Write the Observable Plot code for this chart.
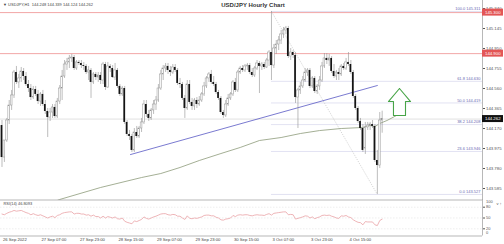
<!DOCTYPE html>
<html><head><meta charset="utf-8">
<script src="https://cdn.jsdelivr.net/npm/d3@7"></script>
<script src="https://cdn.jsdelivr.net/npm/@observablehq/plot@0.6"></script>
<style>
html,body{margin:0;padding:0;background:#fff;}
#wrap{position:relative;width:504px;height:244px;overflow:hidden;font-family:"Liberation Sans",Arial,sans-serif;}
#wrap svg{position:absolute;left:0;overflow:visible;}
#hdr{position:absolute;left:3px;top:2px;font-size:4px;color:#444;white-space:nowrap;z-index:3;}
#title{position:absolute;left:253px;top:2px;transform:translateX(-50%);font-size:6px;font-weight:bold;color:#333;white-space:nowrap;z-index:3;}
</style></head><body><div id="wrap"><div id="hdr">▼ USDJPY,H1&nbsp; 144.248 144.339 144.124 144.262</div><div id="title">USD/JPY Hourly Chart</div></div>
<script>
// ---- data ----
const open = [
144.199,143.887,144.053,144.248,144.394,144.492,144.716,144.619,144.658,144.726,
144.677,144.599,144.560,144.472,144.550,144.502,144.433,144.502,144.404,144.336,
144.277,144.326,144.375,144.287,144.433,144.560,144.677,144.794,144.814,144.853,
144.862,144.755,144.814,144.804,144.784,144.775,144.716,144.736,144.619,144.697,
144.667,144.687,144.638,144.794,144.570,144.775,144.755,144.667,144.736,144.580,
144.502,144.560,144.229,144.112,144.092,143.956,144.131,144.092,144.170,144.229,
144.404,144.307,144.268,144.346,144.404,144.443,144.560,144.697,144.755,144.775,
144.736,144.716,144.765,144.736,144.609,144.599,144.463,144.365,144.599,144.424,
144.385,144.443,144.404,144.443,144.502,144.580,144.658,144.697,144.619,144.599,
144.521,144.463,144.326,144.297,144.404,144.463,144.502,144.619,144.541,144.716,
144.755,144.736,144.775,144.784,144.716,144.687,144.755,144.804,144.775,144.794,
144.765,144.833,144.911,144.784,144.950,144.989,145.028,145.087,145.126,145.145,
144.872,144.911,144.882,144.472,144.541,144.580,144.638,144.716,144.736,144.580,
144.658,144.531,144.580,144.638,144.775,144.853,144.833,144.853,144.726,144.677,
144.716,144.697,144.775,144.755,144.814,144.794,144.716,144.482,144.365,144.238,
144.170,143.975,144.180,144.199,144.209,144.190,143.858,143.809,144.248];
const high = [
144.248,143.956,144.268,144.443,144.541,144.736,144.775,144.697,144.765,144.755,
144.716,144.638,144.599,144.580,144.580,144.541,144.521,144.541,144.443,144.365,
144.365,144.404,144.404,144.463,144.589,144.736,144.833,144.853,144.882,144.892,
144.882,144.833,144.833,144.833,144.814,144.794,144.775,144.755,144.716,144.716,
144.716,144.716,144.814,144.814,144.814,144.794,144.784,144.804,144.755,144.599,
144.580,144.580,144.248,144.151,144.112,144.170,144.190,144.190,144.268,144.443,
144.443,144.346,144.365,144.443,144.482,144.599,144.736,144.784,144.804,144.804,
144.775,144.794,144.794,144.755,144.658,144.619,144.492,144.638,144.638,144.463,
144.463,144.472,144.482,144.521,144.619,144.677,144.716,144.736,144.677,144.619,
144.541,144.482,144.346,144.443,144.502,144.521,144.638,144.658,144.736,144.775,
144.784,144.794,144.804,144.804,144.755,144.775,144.833,144.823,144.814,144.814,
144.853,144.930,145.311,144.989,145.028,145.067,145.126,145.155,145.165,145.165,
144.950,144.930,144.911,144.560,144.619,144.677,144.755,144.755,144.755,144.677,
144.677,144.599,144.677,144.814,144.901,144.901,144.892,144.872,144.794,144.736,
144.755,144.794,144.804,144.853,144.911,144.833,144.736,144.502,144.385,144.268,
144.209,144.229,144.229,144.229,144.248,144.209,143.956,144.326,144.339];
const low = [
143.790,143.839,144.034,144.209,144.346,144.463,144.599,144.560,144.619,144.638,
144.580,144.521,144.443,144.453,144.482,144.404,144.385,144.385,144.307,144.082,
144.238,144.268,144.268,144.268,144.404,144.443,144.658,144.736,144.755,144.814,
144.736,144.736,144.784,144.755,144.736,144.697,144.638,144.463,144.599,144.638,
144.619,144.599,144.599,144.541,144.560,144.716,144.658,144.638,144.560,144.482,
144.482,144.209,144.092,144.053,143.936,143.936,144.073,144.073,144.131,144.209,
144.277,144.238,144.248,144.307,144.346,144.424,144.541,144.638,144.716,144.697,
144.677,144.697,144.716,144.589,144.560,144.443,144.268,144.346,144.404,144.346,
144.346,144.365,144.385,144.424,144.482,144.560,144.619,144.599,144.580,144.502,
144.443,144.307,144.268,144.277,144.385,144.443,144.482,144.521,144.521,144.697,
144.716,144.716,144.736,144.697,144.667,144.667,144.736,144.511,144.736,144.745,
144.755,144.775,144.638,144.755,144.892,144.930,144.989,145.048,145.087,144.853,
144.833,144.853,144.414,144.170,144.502,144.560,144.619,144.677,144.560,144.560,
144.511,144.502,144.541,144.619,144.755,144.794,144.775,144.706,144.658,144.638,
144.638,144.677,144.736,144.736,144.775,144.697,144.463,144.346,144.219,144.151,
143.936,143.917,144.151,144.151,144.170,143.839,143.527,143.780,144.124];
const close = [
143.887,144.053,144.248,144.394,144.492,144.716,144.619,144.658,144.726,144.677,
144.599,144.560,144.472,144.550,144.502,144.433,144.502,144.404,144.336,144.277,
144.326,144.375,144.287,144.433,144.560,144.677,144.794,144.814,144.853,144.862,
144.755,144.814,144.804,144.784,144.775,144.716,144.736,144.619,144.697,144.667,
144.687,144.638,144.794,144.570,144.775,144.755,144.667,144.736,144.580,144.502,
144.560,144.229,144.112,144.092,143.956,144.131,144.092,144.170,144.229,144.404,
144.307,144.268,144.346,144.404,144.443,144.560,144.697,144.755,144.775,144.736,
144.716,144.765,144.736,144.609,144.599,144.463,144.365,144.599,144.424,144.385,
144.443,144.404,144.443,144.502,144.580,144.658,144.697,144.619,144.599,144.521,
144.463,144.326,144.297,144.404,144.463,144.502,144.619,144.541,144.716,144.755,
144.736,144.775,144.784,144.716,144.687,144.755,144.804,144.775,144.794,144.765,
144.833,144.911,144.784,144.950,144.989,145.028,145.087,145.126,145.145,144.872,
144.911,144.882,144.472,144.541,144.580,144.638,144.716,144.736,144.580,144.658,
144.531,144.580,144.638,144.775,144.853,144.833,144.853,144.726,144.677,144.716,
144.697,144.775,144.755,144.814,144.794,144.716,144.482,144.365,144.238,144.170,
143.956,144.180,144.199,144.209,144.190,143.858,143.809,144.248,144.262];
const rsi = [
61,59,63,66,68,71,69, 70,71,68,65,63,59, 62,59,57,59,56,53,50, 53,55,51,57,59,63,
65,66,67,67,61, 63,63,61,61,58,59, 55,58,54,54,50,55, 50,54,52,50,53,48,
47,50,41,38,36,34, 42,40,43,46,53,49, 47,50,53,55,58,61, 62,62,59,58,60,59,
55,55,50,46,56,49, 48,50,49,51,53,57, 58,58,56,56,52,50, 45,44,47,48,50,57,
54,58,59,58,59,59, 57,56,58,59,58,58, 57,60,62,58,63,64, 65,66,67,67,59,60,
59,47,49,51,53,56, 55,50,53,48,51,53, 57,58,57,58,55,53, 50,49,56,55,57,53,
51,45,41,38,37,31, 40,39,39,39,31,29, 43,46.81];
const maIdx = [20,24,41,58,66,74,82,91,99,107,116,124,132,141,150,153,155,157,160,164];
const maVal = [143.44,143.478,143.595,143.692,143.731,143.790,143.858,143.926,143.985,144.053,144.082,144.121,144.150,144.170,144.180,144.199,144.189,144.219,144.248,144.297];
const trendIdx = [53.4, 156];
const trendVal = [143.916, 144.589];
const fibRatio = ["100.0","61.8","50.0","38.2","23.6","0.0"];
const fibPrice = [145.311,144.630,144.419,144.208,143.946,143.527];
const fibFrom = 112, fibTo = 156;
const resist = [145.300, 144.900];
const bid = 144.262;
const priceTicks = [145.340,145.145,144.950,144.755,144.560,144.365,144.170,143.975,143.780,143.585];
const rsiTicks = [80,50,20];
const rsiLevels = [80,50,20];
const xTicks = [0,16,32,48,64,80,96,112,128,144];
const xLabels = ["26 Sep 2022","27 Sep 07:00","27 Sep 23:00","28 Sep 15:00","29 Sep 07:00","29 Sep 23:00","30 Sep 15:00","3 Oct 07:00","3 Oct 23:00","4 Oct 15:00"];
// arrow annotation (candle index, price)
const arrowIdx = [165.2,169.8,167.7,167.7,162.7,162.7,160.6,165.2];
const arrowVal = [144.560,144.433,144.433,144.297,144.297,144.433,144.433,144.560];

// ---- build ----
const xmin = -0.62, xmax = 199.7;
const candles = open.map((o,i)=>({i,o,h:high[i],l:low[i],c:close[i]}));
const bull = candles.filter(d=>d.c>=d.o), bear = candles.filter(d=>d.c<d.o);
const ma = maIdx.map((x,k)=>({x,y:maVal[k]}));
const trend = trendIdx.map((x,k)=>({x,y:trendVal[k]}));
const fibs = fibPrice.map((p,k)=>({p,t:fibRatio[k]+" "+p.toFixed(3)}));
const arrow = arrowIdx.map((x,k)=>({x,y:arrowVal[k]}));
const font = "Liberation Sans, Arial, sans-serif";

const price = Plot.plot({
  width:504, height:200, marginLeft:0, marginRight:22, marginTop:0, marginBottom:0,
  x:{type:"linear", domain:[xmin,xmax], axis:null},
  y:{domain:[143.468,145.418], axis:null},
  style:{fontFamily:font, background:"transparent", overflow:"visible"},
  marks:[
    Plot.ruleY([bid],{stroke:"#cfcfcf", strokeWidth:0.6}),
    Plot.ruleY(resist,{stroke:"#f2a6a6", strokeWidth:1}),
    Plot.ruleY(fibs,{y:"p", x1:fibFrom, x2:xmax, stroke:"#cfcfea", strokeWidth:0.6}),
    Plot.link([0],{x1:fibFrom, y1:fibPrice[0], x2:fibTo, y2:fibPrice[5], stroke:"#bbbbbb", strokeWidth:0.6, strokeDasharray:"1.2,1.2"}),
    Plot.line(ma,{x:"x", y:"y", stroke:"#8d9a7a", strokeWidth:0.8, clip:true}),
    Plot.line(trend,{x:"x", y:"y", stroke:"#5858c4", strokeWidth:0.8}),
    Plot.ruleX(candles,{x:"i", y1:"l", y2:"h", stroke:"#909090", strokeWidth:0.6}),
    Plot.rect(bull,{x1:d=>d.i-0.36, x2:d=>d.i+0.36, y1:"o", y2:"c", fill:"#fff", stroke:"#959595", strokeWidth:0.5}),
    Plot.rect(bear,{x1:d=>d.i-0.36, x2:d=>d.i+0.36, y1:"o", y2:"c", fill:"#141414"}),
    Plot.line(arrow,{x:"x", y:"y", stroke:"#47a447", strokeWidth:1.1, fill:"#fff"}),
    Plot.text(fibs,{x:xmax, y:"p", text:"t", textAnchor:"end", dx:-2, dy:-2.6, fill:"#6a6ab4", fontSize:4}),
    Plot.ruleX([xmax],{stroke:"#9a9a9a", strokeWidth:0.7}),
    Plot.axisY(priceTicks,{anchor:"right", tickSize:2, tickPadding:1.5, tickFormat:d=>d.toFixed(3), fontSize:4.3, color:"#555"}),
    Plot.rect(resist,{x1:xmax, x2:xmax, y1:d=>d, y2:d=>d, insetTop:-3.5, insetBottom:-3.5, insetLeft:0, insetRight:-21, fill:"#e35656"}),
    Plot.text(resist,{x:xmax, y:d=>d, text:d=>d.toFixed(3), textAnchor:"start", dx:2.5, fill:"#fff", fontSize:4.3}),
    Plot.rect([bid],{x1:xmax, x2:xmax, y1:d=>d, y2:d=>d, insetTop:-3.5, insetBottom:-3.5, insetLeft:0, insetRight:-21, fill:"#111"}),
    Plot.text([bid],{x:xmax, y:d=>d, text:d=>d.toFixed(3), textAnchor:"start", dx:2.5, fill:"#fff", fontSize:4.3})
  ]
});
price.style.top = "0px";

const rsiData = rsi.map((v,i)=>({i,v}));
const rsiPlot = Plot.plot({
  width:504, height:45, marginLeft:0, marginRight:22, marginTop:0.5, marginBottom:8.5,
  x:{type:"linear", domain:[xmin,xmax], axis:null},
  y:{domain:[0,100], axis:null},
  style:{fontFamily:font, background:"transparent", overflow:"visible"},
  marks:[
    Plot.ruleY(rsiLevels,{stroke:"#e2e2e2", strokeWidth:0.6, strokeDasharray:"1.5,1.5"}),
    Plot.line(rsiData,{x:"i", y:"v", stroke:"#eaa2a6", strokeWidth:0.8}),
    Plot.ruleY([100],{stroke:"#9a9a9a", strokeWidth:0.7}),
    Plot.ruleY([0],{stroke:"#9a9a9a", strokeWidth:0.7}),
    Plot.ruleX([xmax],{stroke:"#9a9a9a", strokeWidth:0.7}),
    Plot.axisY(rsiTicks,{anchor:"right", tickSize:2, tickPadding:1.5, fontSize:4, color:"#555"}),
    Plot.text([100],{x:xmax, y:d=>d, text:d=>String(d), textAnchor:"start", dx:3.5, dy:1.8, fontSize:4, fill:"#555"}),
    Plot.text([0],{x:xmax, y:d=>d, text:d=>String(d), textAnchor:"start", dx:3.5, dy:-3.2, fontSize:4, fill:"#555"}),
    Plot.text(["RSI(14) 46.8093"],{x:xmin, y:100, text:d=>d, textAnchor:"start", dx:3, dy:3.5, fontSize:3.9, fill:"#444"}),
    Plot.text(xTicks,{x:d=>d, y:0, text:(d,k)=>xLabels[k], textAnchor:"start", dx:1, dy:3.6, fontSize:4.2, fill:"#444"})
  ]
});
rsiPlot.style.top = "199px";

const wrap = document.getElementById("wrap");
wrap.appendChild(price);
wrap.appendChild(rsiPlot);
</script></body></html>
